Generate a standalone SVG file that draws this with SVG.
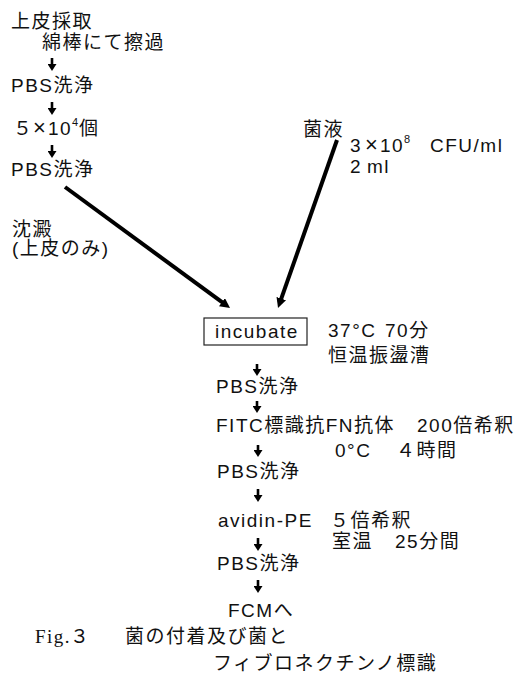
<svg xmlns="http://www.w3.org/2000/svg" width="522" height="685" viewBox="0 0 522 685">
<style>
text{font-family:"Liberation Sans","Noto Sans CJK JP",sans-serif;font-size:19px;letter-spacing:1.5px;fill:#111}
.cap{font-family:"Liberation Serif","Noto Sans CJK JP",serif;font-size:19px}
.sup{font-size:11px;letter-spacing:0}
.x{font-size:22px;letter-spacing:0}
.big{stroke:#000;stroke-width:4;fill:none}
.sm{stroke:#000;stroke-width:2.6;fill:none}
.box{fill:#fff;stroke:#222;stroke-width:1.2}
</style>
<defs>
<marker id="bh" markerUnits="userSpaceOnUse" markerWidth="12" markerHeight="11" refX="3" refY="5" orient="auto" viewBox="0 0 12 11">
<path d="M0,0 L10,5 L0,10 z" fill="#000"/>
</marker>
<marker id="sh" markerUnits="userSpaceOnUse" markerWidth="8" markerHeight="9" refX="1" refY="4.5" orient="auto" viewBox="0 0 8 9">
<path d="M0,0 L7,4.5 L0,9 z" fill="#000"/>
</marker>
</defs>
<rect width="522" height="685" fill="#fff"/>
<g id="connectors">
<line class="big" x1="65" y1="187" x2="224.4" y2="303.9" marker-end="url(#bh)"/>
<line class="big" x1="337" y1="140" x2="280.3" y2="301.4" marker-end="url(#bh)"/>
<line class="sm" x1="52" y1="58" x2="52" y2="65" marker-end="url(#sh)"/>
<line class="sm" x1="52" y1="102" x2="52" y2="109" marker-end="url(#sh)"/>
<line class="sm" x1="52" y1="145" x2="52" y2="152" marker-end="url(#sh)"/>
<line class="sm" x1="257" y1="364" x2="257" y2="370" marker-end="url(#sh)"/>
<line class="sm" x1="257" y1="401" x2="257" y2="407" marker-end="url(#sh)"/>
<line class="sm" x1="258" y1="445" x2="258" y2="451" marker-end="url(#sh)"/>
<line class="sm" x1="258" y1="489" x2="258" y2="496" marker-end="url(#sh)"/>
<line class="sm" x1="258" y1="538" x2="258" y2="545" marker-end="url(#sh)"/>
<line class="sm" x1="258" y1="580" x2="258" y2="587" marker-end="url(#sh)"/>
</g>
<g id="n-sample">
<text x="11" y="28">上皮採取</text>
<text x="42" y="49">綿棒にて擦過</text>
</g>
<g id="n-pbs1"><text x="11" y="92">PBS洗浄</text></g>
<g id="n-cells"><text x="13" y="135">５<tspan class="x" x="33">×</tspan><tspan x="48">10</tspan><tspan class="sup" x="72" y="126">4</tspan><tspan x="79" y="135">個</tspan></text></g>
<g id="n-pbs2"><text x="11" y="176">PBS洗浄</text></g>
<g id="n-precip">
<text x="12" y="236">沈澱</text>
<text x="12" y="255" letter-spacing="1">(上皮のみ)</text>
</g>
<g id="n-bacteria">
<text x="303" y="136">菌液</text>
<text x="350" y="152">3<tspan class="x" x="365">×</tspan><tspan x="380">10</tspan><tspan class="sup" x="404" y="143">8</tspan><tspan x="430" y="152">CFU/ml</tspan></text>
<text x="350" y="173">2<tspan x="367">ml</tspan></text>
</g>
<g id="n-incubate">
<rect class="box" x="204" y="318" width="103" height="27"/>
<text x="215" y="338">incubate</text>
<text x="328" y="337">37°C</text>
<text x="385" y="337">70分</text>
<text x="328" y="362">恒温振盪漕</text>
</g>
<g id="n-pbs3"><text x="216" y="393">PBS洗浄</text></g>
<g id="n-fitc">
<text x="216" y="432">FITC標識抗FN抗体</text>
<text x="417" y="432">200倍希釈</text>
<text x="335" y="457">0°C</text>
<text x="396" y="457">４時間</text>
</g>
<g id="n-pbs4"><text x="217" y="478">PBS洗浄</text></g>
<g id="n-avidin">
<text x="218" y="527">avidin-PE</text>
<text x="330" y="527">５倍希釈</text>
<text x="332" y="548">室温</text>
<text x="395" y="548">25分間</text>
</g>
<g id="n-pbs5"><text x="217" y="570">PBS洗浄</text></g>
<g id="n-fcm"><text x="228" y="617">FCMへ</text></g>
<g id="caption">
<text class="cap" x="35" y="643">Fig.<tspan x="70">３</tspan></text>
<text class="cap" x="125" y="643">菌の付着及び菌と</text>
<text class="cap" x="213" y="670" letter-spacing="3">フィブロネクチンノ標識</text>
</g>
</svg>
